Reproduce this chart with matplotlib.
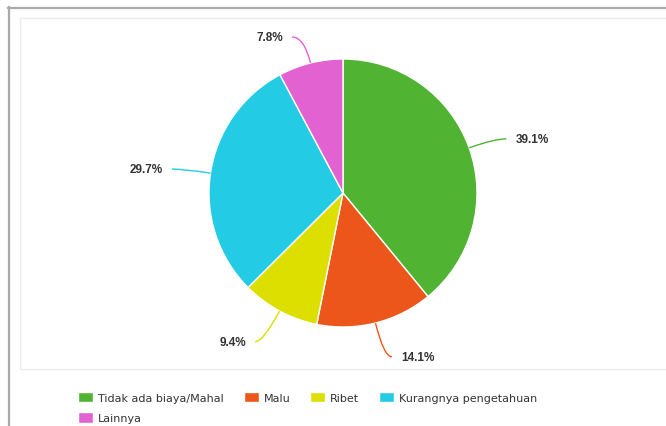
import numpy as np
import matplotlib
matplotlib.use("Agg")
import matplotlib.pyplot as plt
from matplotlib.path import Path
from matplotlib.patches import PathPatch, Rectangle
from matplotlib.lines import Line2D

categories = ["Tidak ada biaya/Mahal", "Malu", "Ribet", "Kurangnya pengetahuan", "Lainnya"]
values = [39.1, 14.1, 9.4, 29.7, 7.8]
colors = ["#50B432", "#ED561B", "#DDDF00", "#24CBE5", "#E262D2"]

W, H = 666, 427
cx, cy, r = 343, H - 194, 134


def main():
    fig = plt.figure(figsize=(W / 100, H / 100), dpi=100)
    ax = fig.add_axes([0, 0, 1, 1])

    wedges, _ = ax.pie(values, colors=colors, center=(cx, cy), radius=r,
                       startangle=90, counterclock=False, frame=True,
                       wedgeprops=dict(edgecolor="white", linewidth=1))
    ax.set_xlim(0, W)
    ax.set_ylim(0, H)
    ax.axis("off")

    # outer frame (top + left) and inner plot box
    ax.add_line(Line2D([8, W], [H - 8.5, H - 8.5], color="#aaaaaa", lw=1.6))
    ax.add_line(Line2D([8.5, 8.5], [0, H - 8], color="#aaaaaa", lw=1.6))
    ax.add_patch(Rectangle((20, H - 370), W, 370 - 19, fill=False,
                           edgecolor="#ebebeb", lw=1))

    # percentage labels with curved leader lines
    total = sum(values)
    start = 0.0
    for val, col in zip(values, colors):
        mid = np.deg2rad((start + val / 2) / total * 360)
        start += val
        dx, dy = np.sin(mid), np.cos(mid)
        k = 1.2 if dy > 0 else 1.26
        p0 = (cx + r * dx, cy + r * dy)
        p1 = (cx + k * r * dx, cy + k * r * dy)
        side = 1 if dx >= 0 else -1
        p2 = (p1[0] + side * (12 if dy > 0 else 8), p1[1])
        path = Path([p0, p1, p2], [Path.MOVETO, Path.CURVE3, Path.CURVE3])
        ax.add_patch(PathPatch(path, fill=False, edgecolor=col, lw=1))
        ax.text(p2[0] + side * 9, p2[1], f"{val}%",
                ha="left" if side > 0 else "right", va="center",
                fontsize=8.5, fontweight="bold", color="#333333",
                family="Liberation Sans")

    order = [0, 4, 1, 2, 3]
    fig.legend([wedges[i] for i in order], [categories[i] for i in order],
               loc="upper left", bbox_to_anchor=(70 / W, 1 - 385 / H),
               ncol=4, frameon=False, fontsize=8, labelcolor="#333333",
               handlelength=1.35, handleheight=1.1, handletextpad=0.45,
               columnspacing=1.8, labelspacing=0.85, borderpad=0.2)

    fig.savefig("out.png", dpi=100)


if __name__ == "__main__":
    main()
